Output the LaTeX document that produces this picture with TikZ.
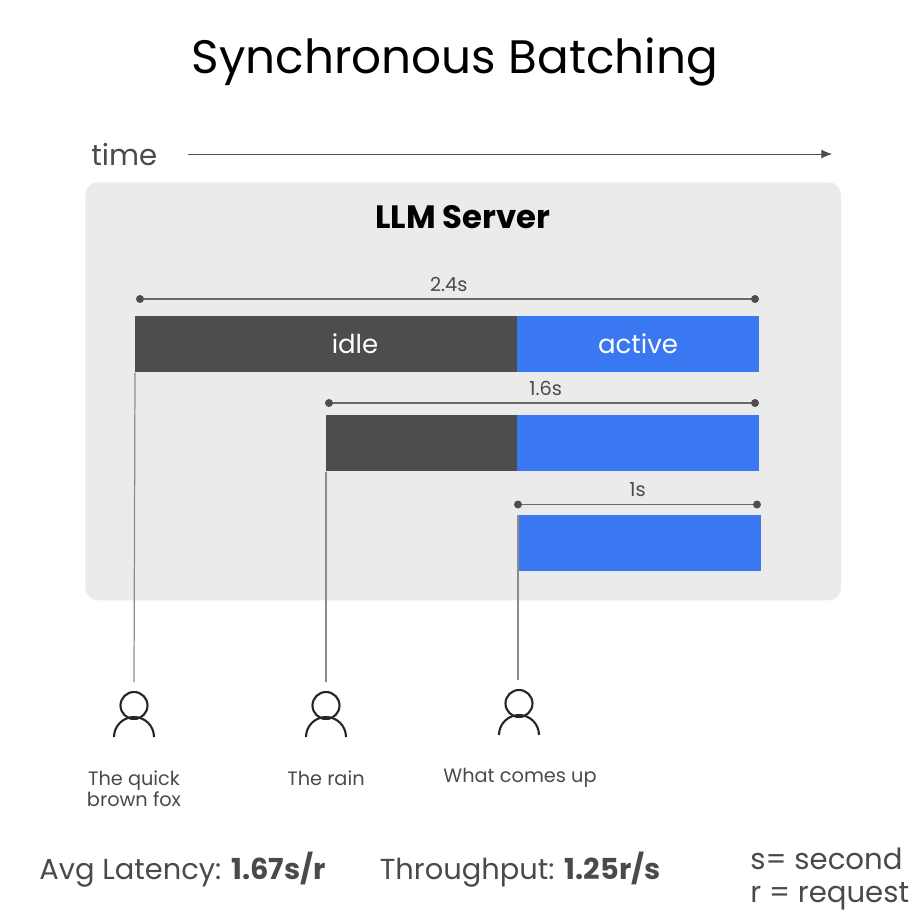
\documentclass[tikz,border=0pt]{standalone}
\usepackage{fontspec}
\setmainfont{Poppins}
\usetikzlibrary{arrows.meta}
\definecolor{panelgray}{HTML}{EBEBEB}
\definecolor{idlegray}{HTML}{4D4D4D}
\definecolor{activeblue}{HTML}{3A78F2}
\definecolor{textgray}{HTML}{4A4A4A}
\definecolor{linegray}{HTML}{8C8C8C}
\newcommand{\fsize}[1]{\fontsize{#1}{1.2em}\selectfont}
\tikzset{
    barbox/.style={anchor=north west,inner sep=0pt,minimum height=1.12cm},
    barlabel/.style={inner sep=0pt,text=white,font=\fsize{14.8}},
    idlebar/.style={barbox,fill=idlegray},
    activebar/.style={barbox,fill=activeblue},
    enddot/.style={circle,fill=idlegray,inner sep=0pt,minimum size=0.16cm},
    spanline/.style={draw=idlegray!85,line width=0.6pt},
    spanlabel/.style={above,inner sep=0pt,yshift=4pt,text=textgray,font=\fsize{11}},
    userline/.style={draw=linegray,line width=0.7pt},
    userlabel/.style={align=center,text=textgray,font=\fsize{11},inner sep=0pt},
    statlabel/.style={anchor=west,inner sep=0pt,text=textgray,font=\fsize{16.6}},
    usericon/.pic={
        \draw[black!85,line width=1.2pt] (0,0) circle (13.5);
        \draw[black!85,line width=1.2pt] (-20,31.5) arc (180:360:20);
    }
}
\begin{document}
\begin{tikzpicture}[x=0.02cm,y=-0.02cm]
    \useasboundingbox (0,0) rectangle (916,924);
    \node[inner sep=0pt,font=\fsize{26.7}] (title) at (455,62) {Synchronous Batching};
    % time axis
    \node[statlabel] (time) at (91,154.5) {time};
    \coordinate (timeA) at (188,154);
    \coordinate (timeB) at (832,154);
    \draw[-{Latex[length=6pt,width=5pt]},idlegray,line width=0.45pt] (timeA) -- (timeB);
    % server
    \node[anchor=north west,fill=panelgray,rounded corners=0.25cm,minimum width=15.12cm,minimum height=8.36cm] (server) at (85,182) {};
    \node[inner sep=0pt,font=\fsize{18.4}\bfseries] (serverlabel) at (463,217) {LLM Server};
    % bars
    \node[idlebar,minimum width=7.64cm] (idleA) at (135,316) {};
    \node[activebar,minimum width=4.84cm] (activeA) at (517,316) {};
    \node[idlebar,minimum width=3.82cm] (idleB) at (326,415) {};
    \node[activebar,minimum width=4.84cm] (activeB) at (517,415) {};
    \node[activebar,minimum width=4.86cm] (activeC) at (518,515) {};
    \node[barlabel] (idletext) at (355,344) {idle};
    \node[barlabel] (activetext) at (638,344) {active};
    % durations
    \node[enddot] (dotAa) at (140,299) {};
    \node[enddot] (dotAb) at (755,299) {};
    \node[enddot] (dotBa) at (329,403) {};
    \node[enddot] (dotBb) at (755,403) {};
    \node[enddot] (dotCa) at (518,504.5) {};
    \node[enddot] (dotCb) at (757,504.5) {};
    \draw[spanline] (dotAa) -- (dotAb) node[spanlabel,pos=0.502] {2.4s};
    \draw[spanline] (dotBa) -- (dotBb) node[spanlabel,pos=0.509] {1.6s};
    \draw[spanline] (dotCa) -- (dotCb) node[spanlabel,pos=0.5] {1s};
    % users
    \pic at (134,705.5) {usericon};
    \pic at (326,705.5) {usericon};
    \pic at (519,703.5) {usericon};
    \coordinate (userA) at (134,682);
    \coordinate (userB) at (326,682);
    \coordinate (userC) at (518,680);
    \draw[userline] (idleA.south west) -- (userA);
    \draw[userline] (idleB.south west) -- (userB);
    \draw[userline] (activeC.north west) -- (userC);
    \node[userlabel] (promptA) at (134,789) {The quick\\brown fox};
    \node[userlabel] (promptB) at (326,778) {The rain};
    \node[userlabel] (promptC) at (520,777.5) {What comes up};
    % stats
    \node[statlabel,font=\fsize{16.45}] (latency) at (39,870) {Avg Latency: \textbf{1.67s/r}};
    \node[statlabel,font=\fsize{16.45}] (throughput) at (379.5,870) {Throughput: \textbf{1.25r/s}};
    \node[statlabel] (unitS) at (750,859) {s= second};
    \node[statlabel] (unitR) at (750,896) {r = request};
\end{tikzpicture}
\end{document}
